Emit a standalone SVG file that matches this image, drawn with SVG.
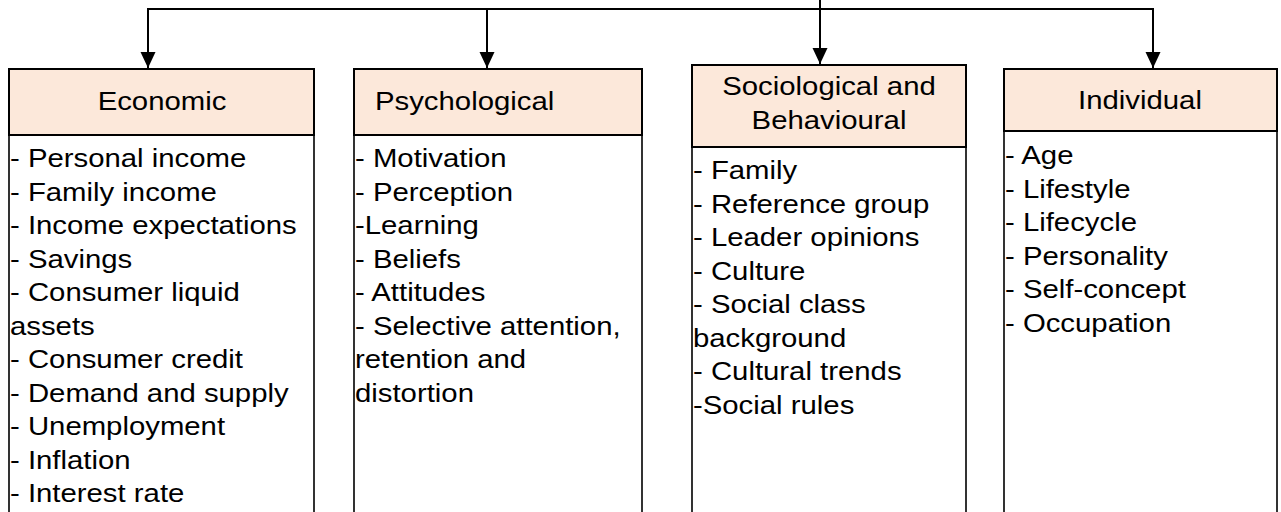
<svg xmlns="http://www.w3.org/2000/svg" width="1281" height="512" viewBox="0 0 1281 512">
<style>
.hd{fill:#FCE8DA;stroke:#000;stroke-width:2}
.bd{fill:#fff;stroke:#000;stroke-width:1.6}
.t{font-family:"Liberation Sans",Arial,sans-serif;font-size:25.5px;fill:#000}
.c{text-anchor:middle}
.cn{fill:none;stroke:#000;stroke-width:2}
</style>
<defs>
<marker id="ah" markerUnits="userSpaceOnUse" markerWidth="16" markerHeight="16" viewBox="0 0 16 16" refX="16" refY="8" orient="auto">
<path d="M0,0.5 L16,8 L0,15.5 Z" fill="#000"/>
</marker>
</defs>
<rect width="1281" height="512" fill="#fff"/>
<g id="connectors">
<path class="cn" d="M148,9 H1153"/>
<path class="cn" d="M148,8 V68" marker-end="url(#ah)"/>
<path class="cn" d="M487,9 V68" marker-end="url(#ah)"/>
<path class="cn" d="M820,0 V64" marker-end="url(#ah)"/>
<path class="cn" d="M1153,8 V68" marker-end="url(#ah)"/>
</g>
<g id="economic">
<rect class="bd" x="9" y="135" width="305" height="400"/>
<rect class="hd" x="9" y="69" width="305" height="66"/>
<text class="t c" transform="matrix(1.15 0 0 1 162 110)">Economic</text>
<text class="t" transform="matrix(1.15 0 0 1 10 167)">- Personal income</text>
<text class="t" transform="matrix(1.15 0 0 1 10 200.5)">- Family income</text>
<text class="t" transform="matrix(1.15 0 0 1 10 234)">- Income expectations</text>
<text class="t" transform="matrix(1.15 0 0 1 10 267.5)">- Savings</text>
<text class="t" transform="matrix(1.15 0 0 1 10 301)">- Consumer liquid</text>
<text class="t" transform="matrix(1.15 0 0 1 10 334.5)">assets</text>
<text class="t" transform="matrix(1.15 0 0 1 10 368)">- Consumer credit</text>
<text class="t" transform="matrix(1.15 0 0 1 10 401.5)">- Demand and supply</text>
<text class="t" transform="matrix(1.15 0 0 1 10 435)">- Unemployment</text>
<text class="t" transform="matrix(1.15 0 0 1 10 468.5)">- Inflation</text>
<text class="t" transform="matrix(1.15 0 0 1 10 502)">- Interest rate</text>
</g>
<g id="psychological">
<rect class="bd" x="354" y="135" width="288" height="400"/>
<rect class="hd" x="354" y="69" width="288" height="66"/>
<text class="t" transform="matrix(1.15 0 0 1 375 110)">Psychological</text>
<text class="t" transform="matrix(1.15 0 0 1 355 167)">- Motivation</text>
<text class="t" transform="matrix(1.15 0 0 1 355 200.5)">- Perception</text>
<text class="t" transform="matrix(1.15 0 0 1 355 234)">-Learning</text>
<text class="t" transform="matrix(1.15 0 0 1 355 267.5)">- Beliefs</text>
<text class="t" transform="matrix(1.15 0 0 1 355 301)">- Attitudes</text>
<text class="t" transform="matrix(1.15 0 0 1 355 334.5)">- Selective attention,</text>
<text class="t" transform="matrix(1.15 0 0 1 355 368)">retention and</text>
<text class="t" transform="matrix(1.15 0 0 1 355 401.5)">distortion</text>
</g>
<g id="sociological">
<rect class="bd" x="692" y="147" width="274" height="400"/>
<rect class="hd" x="692" y="65" width="274" height="82"/>
<text class="t c" transform="matrix(1.15 0 0 1 829 95)">Sociological and</text>
<text class="t c" transform="matrix(1.15 0 0 1 829 129)">Behavioural</text>
<text class="t" transform="matrix(1.15 0 0 1 693 179)">- Family</text>
<text class="t" transform="matrix(1.15 0 0 1 693 212.5)">- Reference group</text>
<text class="t" transform="matrix(1.15 0 0 1 693 246)">- Leader opinions</text>
<text class="t" transform="matrix(1.15 0 0 1 693 279.5)">- Culture</text>
<text class="t" transform="matrix(1.15 0 0 1 693 313)">- Social class</text>
<text class="t" transform="matrix(1.15 0 0 1 693 346.5)">background</text>
<text class="t" transform="matrix(1.15 0 0 1 693 380)">- Cultural trends</text>
<text class="t" transform="matrix(1.15 0 0 1 693 413.5)">-Social rules</text>
</g>
<g id="individual">
<rect class="bd" x="1004" y="131" width="273" height="400"/>
<rect class="hd" x="1004" y="69" width="273" height="62"/>
<text class="t c" transform="matrix(1.15 0 0 1 1140 109)">Individual</text>
<text class="t" transform="matrix(1.15 0 0 1 1005 164)">- Age</text>
<text class="t" transform="matrix(1.15 0 0 1 1005 197.5)">- Lifestyle</text>
<text class="t" transform="matrix(1.15 0 0 1 1005 231)">- Lifecycle</text>
<text class="t" transform="matrix(1.15 0 0 1 1005 264.5)">- Personality</text>
<text class="t" transform="matrix(1.15 0 0 1 1005 298)">- Self-concept</text>
<text class="t" transform="matrix(1.15 0 0 1 1005 331.5)">- Occupation</text>
</g>
</svg>
